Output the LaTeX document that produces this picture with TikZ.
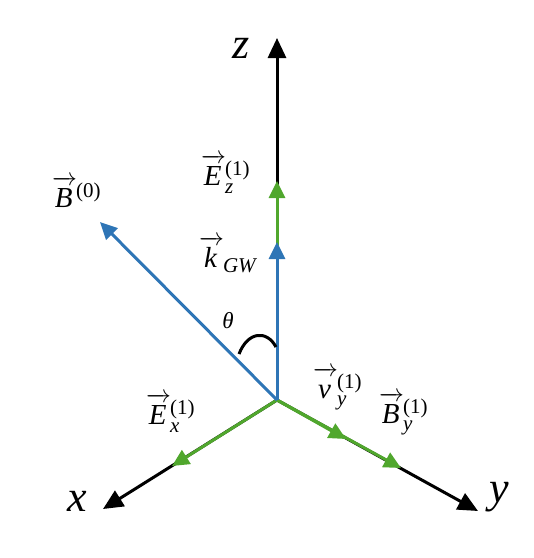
\documentclass[tikz,border=0pt]{standalone}
\usepackage{amsmath}
\usepackage{fontspec}
\setmainfont{Liberation Serif}
\usetikzlibrary{arrows.meta}
\definecolor{gwblue}{RGB}{46,117,182}
\definecolor{gwgreen}{RGB}{80,167,45}
% vector letter with arrow, subscript and superscript
\newcommand{\vlab}[4][8pt]{%
  {\fontsize{29}{32}\selectfont$\overrightarrow{\hbox{\itshape\rule{0pt}{21.5pt}\kern1pt#2\kern3pt}}\kern-1pt$}%
  {\fontsize{21}{23}\selectfont\ooalign{\raisebox{10pt}{#4}\cr\raisebox{-#1}{\itshape #3}\cr}}}

\begin{document}
\begin{tikzpicture}[
  x=1pt, y=-1pt,
  axis/.style={-{Triangle[width=18pt,length=20pt]}, line width=3pt, color=black},
  vec/.style={-{Triangle[width=16pt,length=17pt]}, line width=3pt},
  axlabel/.style={font=\fontsize{44}{48}\selectfont\itshape},
  veclabel/.style={inner sep=0pt, anchor=base west}
]
\useasboundingbox (0,0) rectangle (534,558);

% Origin and end points
\coordinate (O) at (277,400);
\coordinate (zend) at (277,38);
\coordinate (xend) at (103,509);
\coordinate (yend) at (478,511);
\coordinate (Bend) at (100,222);
\coordinate (Ezend) at (277,181);
\coordinate (kend) at (277,242);
\coordinate (Exend) at (172,466);
\coordinate (vend) at (346,439);
\coordinate (Byend) at (401,468);

% Axes
\draw[axis] (O) -- (zend);
\draw[axis] (O) -- (xend);
\draw[axis] (O) -- (yend);

% Vectors
\draw[vec, gwgreen] (O) -- (Ezend);
\draw[vec, gwgreen] (O) -- (Exend);
\draw[vec, gwgreen] (O) -- (Byend);
\draw[vec, gwgreen] (O) -- (vend);
\draw[vec, gwblue] (O) -- (kend);
\draw[vec, gwblue] (O) -- (Bend);

% Angle
\draw[line width=3pt] (239,354) .. controls (248,331) and (267,330) .. (276,347);

% Labels
\node[axlabel] (zlab) at (241,48) {z};
\node[axlabel] (xlab) at (77,501) {x};
\node[axlabel] (ylab) at (499,497) {y};
\node[font=\fontsize{23}{25}\selectfont\itshape] (thlab) at (228,321) {θ};
\node[veclabel] (B0lab) at (52,207) {\vlab{B}{}{(0)}};
\node[veclabel] (Ezlab) at (201,185) {\vlab{E}{z}{(1)}};
\node[veclabel] (klab) at (199,267) {\vlab[5pt]{k}{GW}{}};
\node[veclabel] (Exlab) at (146,424) {\vlab{E}{x}{(1)}};
\node[veclabel] (vlab) at (313,398) {\vlab[7pt]{v}{y}{(1)}};
\node[veclabel] (Bylab) at (379,423) {\vlab[7pt]{B}{y}{(1)}};

\end{tikzpicture}
\end{document}
